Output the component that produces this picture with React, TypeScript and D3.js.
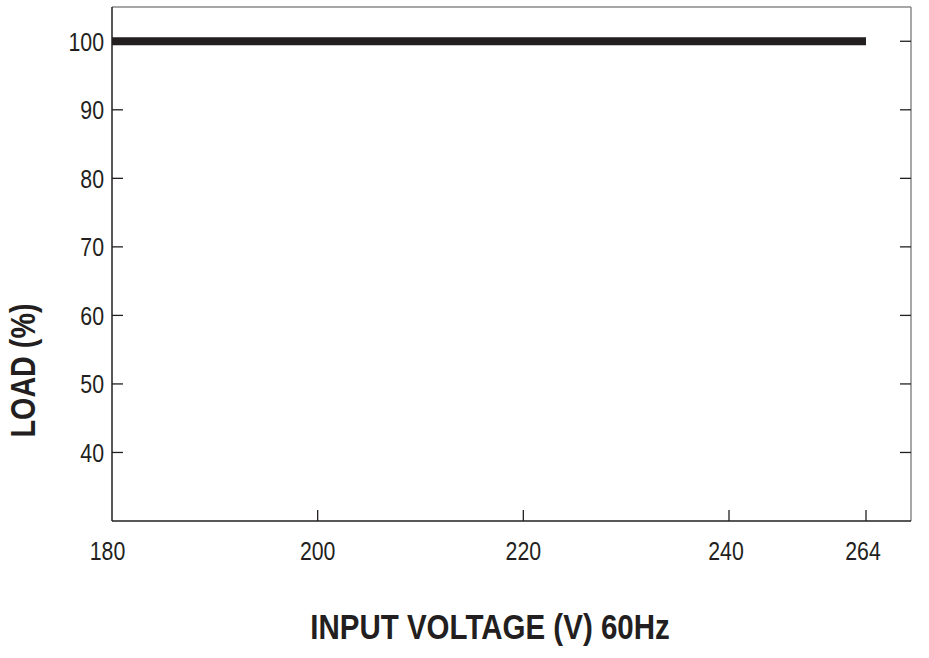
import React from "react";
import * as d3 from "d3";

const voltage = [180, 264];
const load = [100, 100];
const xTicks = [180, 200, 220, 240, 264];
const yTicks = [40, 50, 60, 70, 80, 90, 100];
const xDomain = [180, 240, 264];
const yDomain = [30, 105];

const W = 929;
const H = 658;
const left = 112;
const right = 911;
const top = 7;
const bottom = 521;
const FONT = "'Liberation Sans', Arial, sans-serif";
const INK = "#231f20";
const NARROW = 0.82;

function NText(props: {
  x: number;
  y: number;
  anchor: string;
  size: number;
  bold?: boolean;
  rotate?: number;
  dy?: string;
  children: React.ReactNode;
}) {
  const { x, y, anchor, size, bold, rotate, dy, children } = props;
  return (
    <g transform={`translate(${x},${y}) rotate(${rotate || 0}) scale(${NARROW},1)`}>
      <text
        x={0}
        y={0}
        dy={dy}
        textAnchor={anchor}
        fontSize={size}
        fontWeight={bold ? "bold" : "normal"}
        fill={INK}
      >
        {children}
      </text>
    </g>
  );
}

export default function App() {
  const x = d3.scaleLinear().domain(xDomain).range([left, 729, 866]);
  const y = d3.scaleLinear().domain(yDomain).range([bottom, top]);
  const pts = voltage.map((v, i) => [v, load[i]] as [number, number]);
  const line = d3
    .line<[number, number]>()
    .x((d) => x(d[0]))
    .y((d) => y(d[1]));
  const tl = 11;
  return (
    <svg
      width={W}
      height={H}
      style={{ position: "absolute", left: 0, top: 0, background: "#fff" }}
      fontFamily={FONT}
    >
      <rect x={0} y={0} width={W} height={H} fill="#fff" />
      {/* frame */}
      <line x1={left} x2={right} y1={top} y2={top} stroke="#8a8a8a" strokeWidth={1.5} />
      <line x1={right} x2={right} y1={top} y2={bottom} stroke="#8a8a8a" strokeWidth={1.5} />
      <line x1={left} x2={left} y1={top} y2={bottom} stroke={INK} strokeWidth={1.5} />
      <line x1={left} x2={right} y1={bottom} y2={bottom} stroke={INK} strokeWidth={1.5} />
      {/* y ticks */}
      {yTicks.map((t) => (
        <g key={"y" + t}>
          <line x1={left} x2={left + tl} y1={y(t)} y2={y(t)} stroke={INK} strokeWidth={1.3} />
          <line x1={right - tl} x2={right} y1={y(t)} y2={y(t)} stroke={INK} strokeWidth={1.3} />
          <NText x={104} y={y(t)} dy="0.36em" anchor="end" size={26}>
            {t}
          </NText>
        </g>
      ))}
      {/* x ticks */}
      {xTicks.map((t) => (
        <g key={"x" + t}>
          {t !== 180 && (
            <line x1={x(t)} x2={x(t)} y1={bottom - tl} y2={bottom} stroke={INK} strokeWidth={1.3} />
          )}
          <NText
            x={x(t) - (t === 180 ? 4.5 : t === 200 ? 0 : t === 220 ? 0 : 3)}
            y={559.5}
            anchor="middle"
            size={26}
          >
            {t}
          </NText>
        </g>
      ))}
      {/* data line */}
      <path d={line(pts) || ""} fill="none" stroke={INK} strokeWidth={8} />
      {/* axis titles */}
      <NText x={490} y={638.5} anchor="middle" size={36} bold>
        INPUT VOLTAGE (V) 60Hz
      </NText>
      <NText x={35} y={370.5} anchor="middle" size={35} bold rotate={-90}>
        LOAD (%)
      </NText>
    </svg>
  );
}
